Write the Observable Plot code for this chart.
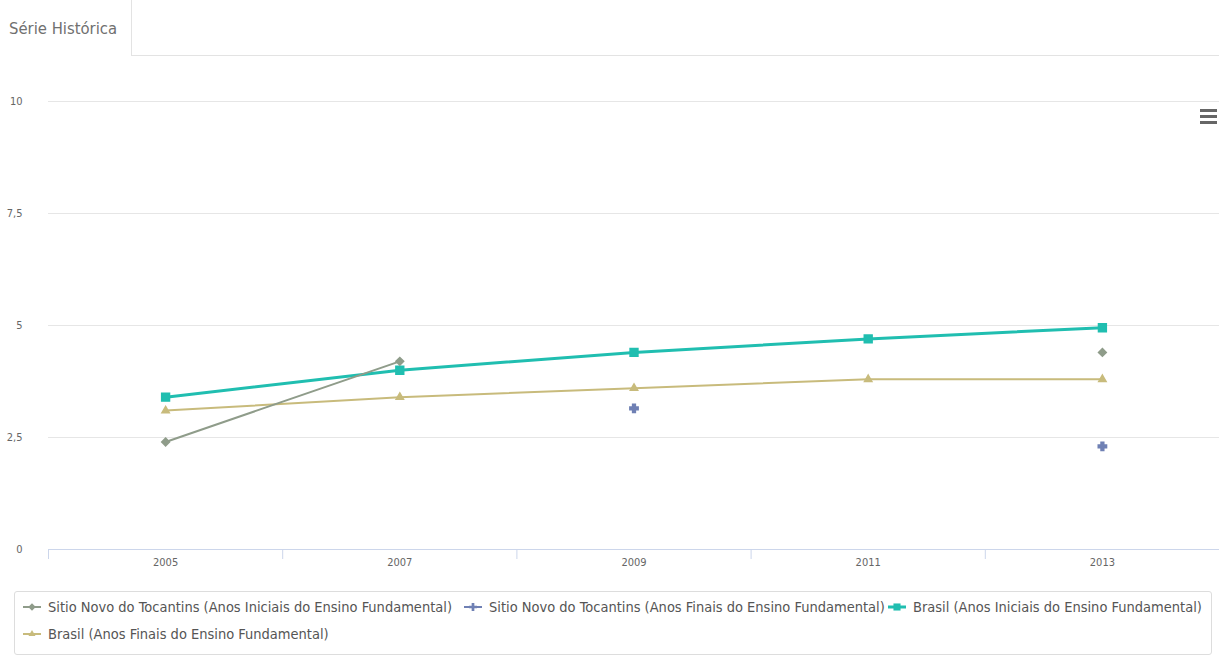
<!DOCTYPE html>
<html>
<head>
<meta charset="utf-8">
<script src="https://cdn.jsdelivr.net/npm/d3@7"></script>
<script src="https://cdn.jsdelivr.net/npm/@observablehq/plot@0.6"></script>
<style>
  html, body { margin: 0; padding: 0; background: #fff; }
  body { width: 1219px; height: 657px; position: relative; overflow: hidden;
         font-family: "Liberation Sans Narrow", "DejaVu Sans Condensed", "DejaVu Sans", sans-serif; color: #666; }
  .tabbar { position: absolute; left: 0; top: 0; width: 1219px; height: 56px; }
  .tab { position: absolute; left: 0; top: 0; width: 132px; height: 56px;
         border-right: 1px solid #e3e3e3; box-sizing: border-box; }
  .tab span { position: absolute; left: 9px; top: 19px; font-size: 16.5px; color: #707070; }
  .tabline { position: absolute; left: 132px; top: 55px; right: 0; height: 1px; background: #e3e3e3; }
  #chart { position: absolute; left: 0; top: 56px; }
  .menu { position: absolute; left: 1200px; top: 109px; width: 17px; }
  .menu div { height: 3px; background: #666; margin-bottom: 3px; }
  .legend { position: absolute; left: 14px; top: 591px; width: 1198px; height: 64px;
            border: 1px solid #ddd; border-radius: 3px; box-sizing: border-box; }
  .item { position: absolute; display: flex; align-items: center; font-size: 14.5px; color: #555; white-space: nowrap; }
  .item svg { margin-right: 5px; }
</style>
</head>
<body>
<div class="tabbar">
  <div class="tab"><span>Série Histórica</span></div>
  <div class="tabline"></div>
</div>
<div id="chart"></div>
<div class="menu"><div></div><div></div><div></div></div>
<div class="legend" id="legend"></div>
<script>
// Edições do IDEB
const years = [2005, 2007, 2009, 2011, 2013];
// Séries (null = sem nota na edição)
const sitioIniciais = [2.4, 4.2, null, null, 4.4];
const sitioFinais = [null, null, 3.15, null, 2.3];
const brasilIniciais = [3.4, 4.0, 4.4, 4.7, 4.95];
const brasilFinais = [3.1, 3.4, 3.6, 3.8, 3.8];

const seriesNames = [
  "Sitio Novo do Tocantins (Anos Iniciais do Ensino Fundamental)",
  "Sitio Novo do Tocantins (Anos Finais do Ensino Fundamental)",
  "Brasil (Anos Iniciais do Ensino Fundamental)",
  "Brasil (Anos Finais do Ensino Fundamental)"
];
const seriesValues = [sitioIniciais, sitioFinais, brasilIniciais, brasilFinais];
const seriesColors = ["#8f9c8a", "#6f80b4", "#20beb0", "#c8bb7c"];
const seriesSymbols = ["diamond2", "cross", "square2", "triangle2"];
const lineWidths = [2, 2, 3, 2];

const yTicks = [0, 2.5, 5, 7.5, 10];
const categoryEdges = [2004, 2006, 2008, 2010, 2012];

const rows = seriesValues.map((vals, s) =>
  years.map((year, i) => ({year, value: vals[i] == null ? NaN : vals[i], s}))
);

const marks = [
  Plot.gridY(yTicks, {stroke: "#e6e6e6", strokeOpacity: 1}),
  Plot.ruleY([0], {stroke: "#ccd6eb"}),
  Plot.axisY(yTicks, {tickSize: 0, tickPadding: 26, label: null,
    tickFormat: d => String(d).replace(".", ","), fontSize: 11, fill: "#666"}),
  Plot.axisX(categoryEdges, {tickSize: 10, label: null, tickFormat: () => "", stroke: "#ccd6eb"}),
  Plot.axisX(years, {tickSize: 0, tickPadding: 9, label: null,
    tickFormat: d => String(d), fontSize: 11, fill: "#666"})
];

// Ordem de desenho: linhas de Brasil por baixo, depois as de Sitio Novo
[3, 2, 0, 1].forEach(s => {
  marks.push(Plot.line(rows[s], {x: "year", y: "value", stroke: seriesColors[s],
    strokeWidth: lineWidths[s], curve: "linear"}));
});
[3, 2, 0, 1].forEach(s => {
  marks.push(Plot.dot(rows[s].filter(d => !isNaN(d.value)), {x: "year", y: "value",
    symbol: seriesSymbols[s], fill: seriesColors[s], stroke: seriesColors[s],
    r: s === 2 ? 5 : 3.5}));
});

const chart = Plot.plot({
  width: 1219,
  height: 524,
  marginLeft: 48,
  marginRight: 0,
  marginTop: 45,
  marginBottom: 31,
  style: {fontFamily: "'Liberation Sans Narrow', 'DejaVu Sans Condensed', 'DejaVu Sans', sans-serif", background: "#fff"},
  x: {domain: [2004, 2014], axis: null, label: null},
  y: {domain: [0, 10], axis: null, label: null},
  marks
});
document.getElementById("chart").appendChild(chart);

// Legenda
const symbolTypes = {
  diamond2: d3.symbolDiamond2, cross: d3.symbolCross,
  square2: d3.symbolSquare2, triangle2: d3.symbolTriangle2
};
const legend = document.getElementById("legend");
const positions = [[6, 7], [447, 7], [871, 7], [6, 34]];
seriesNames.forEach((name, s) => {
  const item = document.createElement("div");
  item.className = "item";
  item.style.left = positions[s][0] + "px";
  item.style.top = positions[s][1] + "px";
  const icon = d3.create("svg").attr("width", 22).attr("height", 14);
  icon.append("line").attr("x1", 2).attr("x2", 20).attr("y1", 7).attr("y2", 7)
    .attr("stroke", seriesColors[s]).attr("stroke-width", lineWidths[s]);
  const sym = d3.symbol().type(symbolTypes[seriesSymbols[s]]).size(s === 2 ? 64 : 36);
  icon.append("path").attr("d", sym()).attr("transform", "translate(11,7)").attr("fill", seriesColors[s]);
  item.appendChild(icon.node());
  const label = document.createElement("span");
  label.textContent = name;
  item.appendChild(label);
  legend.appendChild(item);
});
</script>
</body>
</html>
